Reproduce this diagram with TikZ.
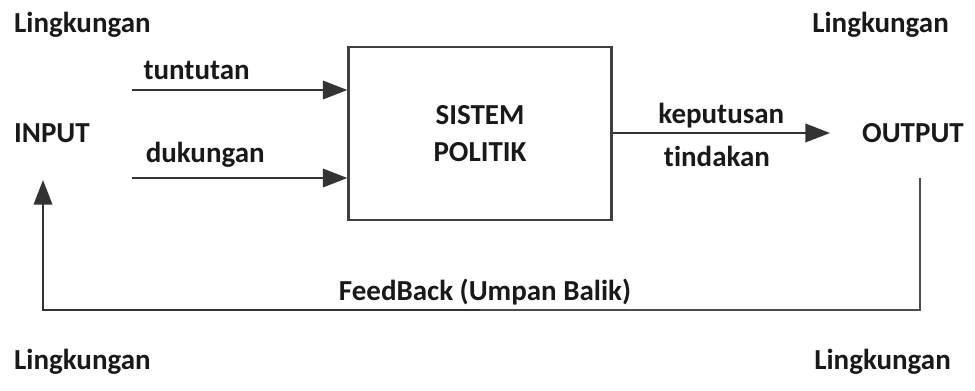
\documentclass[tikz,border=0pt]{standalone}
\usepackage{fontspec}
\setmainfont{Carlito}[Ligatures={NoCommon}]
\usetikzlibrary{arrows.meta, positioning}

\begin{document}
\begin{tikzpicture}[
  x=0.02cm, y=-0.02cm,
  every node/.style={font=\fontsize{16.5}{21}\selectfont\bfseries, text=black!90},
  sysbox/.style={draw=black!75, line width=1.3pt, minimum width=5.26cm, minimum height=3.46cm, align=center},
  arr/.style={-{Triangle[length=14pt, width=10.5pt]}, line width=1.3pt, draw=black!80},
  fb/.style={line width=1.3pt, draw=black!70}
]
\useasboundingbox (0,0) rectangle (975,390);

\node[sysbox] (sys) at (480,133.5) {SISTEM\\POLITIK};

\node[anchor=west] (lingtl) at (8,25) {Lingkungan};
\node[anchor=east] (lingtr) at (955,25) {Lingkungan};
\node[anchor=west] (lingbl) at (8,362) {Lingkungan};
\node[anchor=east] (lingbr) at (957,362) {Lingkungan};

\node[anchor=west] (input) at (8,133) {INPUT};
\node[anchor=east] (output) at (970,133) {OUTPUT};

\coordinate (tuntin) at (132,90);
\coordinate (dukin) at (132,178);
\coordinate (outend) at (830,133);
\coordinate (fbstart) at (920,178);
\coordinate (fbend) at (43,180);
\coordinate (fbbot) at (480,310);

\draw[arr] (tuntin) -- (tuntin -| sys.west) node[pos=0.3, above=2pt] (tunt) {tuntutan};
\draw[arr] (dukin) -- (dukin -| sys.west) node[pos=0.34, above=2pt] (duk) {dukungan};
\draw[arr] (sys.east |- outend) -- (outend)
  node[pos=0.5, above=-1.4pt] (kep) {keputusan}
  node[pos=0.48, below=3.7pt] (tind) {tindakan};

\draw[fb] (fbstart) |- (fbbot);
\draw[arr] (fbbot) -| (fbend);
\node (feedback) at (485,292) {FeedBack (Umpan Balik)};
\end{tikzpicture}
\end{document}
